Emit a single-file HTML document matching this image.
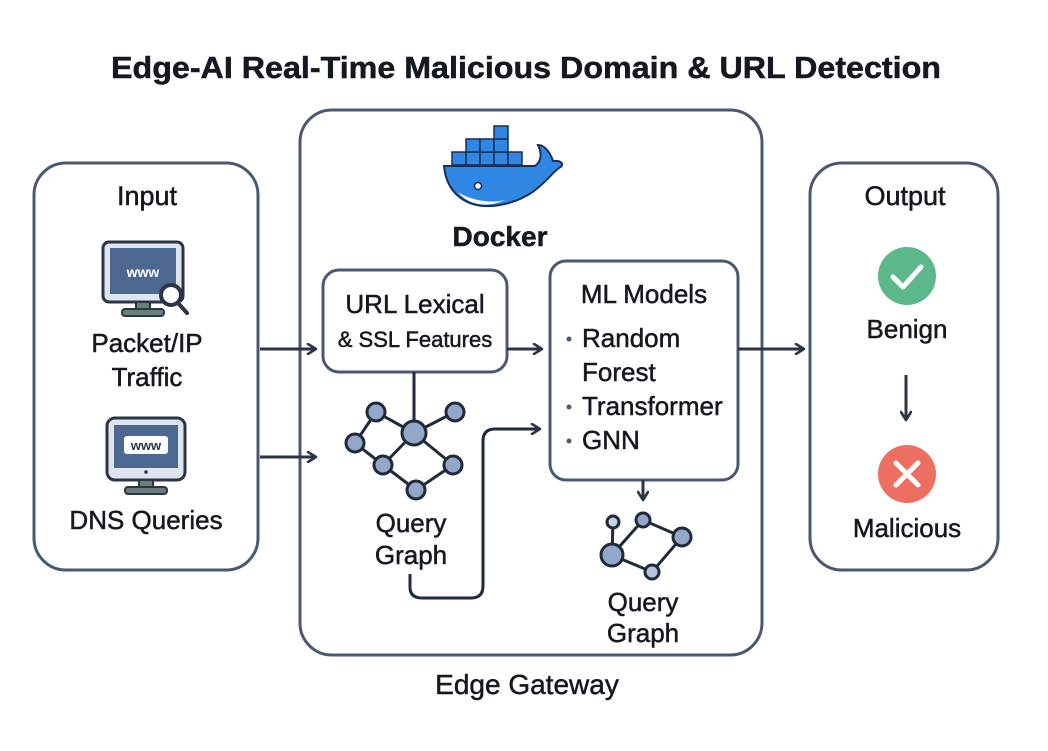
<!DOCTYPE html>
<html><head><meta charset="utf-8"><style>
html,body{margin:0;padding:0;background:#fff;}
svg{display:block;}
text{font-family:"Liberation Sans","DejaVu Sans",sans-serif;fill:#141821;stroke:#141821;stroke-width:0.5;}
</style></head><body>
<svg width="1048" height="751" viewBox="0 0 1048 751" xmlns="http://www.w3.org/2000/svg">
<defs>
<marker id="ah" viewBox="0 0 12 12" refX="10" refY="6" markerWidth="12" markerHeight="12" markerUnits="userSpaceOnUse" orient="auto">
<path d="M2,1 L10,6 L2,11" fill="none" stroke="#2b3545" stroke-width="2.6" stroke-linecap="round" stroke-linejoin="round"/>
</marker>
</defs>
<text x="526" y="78" font-size="31" font-weight="bold" text-anchor="middle" textLength="830" lengthAdjust="spacingAndGlyphs">Edge-AI Real-Time Malicious Domain &amp; URL Detection</text>

<rect x="34" y="163" width="224" height="407" rx="32" fill="#fff" stroke="#4a5870" stroke-width="3"/>
<rect x="300" y="110" width="462" height="545" rx="32" fill="#fff" stroke="#4a5870" stroke-width="3"/>
<rect x="810" y="163" width="188" height="407" rx="32" fill="#fff" stroke="#4a5870" stroke-width="3"/>
<rect x="323" y="270" width="184" height="102" rx="16" fill="#fff" stroke="#4a5870" stroke-width="3"/>
<rect x="550" y="261" width="188" height="219" rx="16" fill="#fff" stroke="#4a5870" stroke-width="3"/>

<text x="147" y="205" font-size="27" text-anchor="middle">Input</text>
<rect x="103" y="242" width="80" height="60" rx="6" fill="#dfe5ee" stroke="#2b3545" stroke-width="3"/>
<rect x="110" y="248" width="66" height="46" fill="#4c6891"/>
<text x="143" y="277" font-size="14" font-weight="bold" text-anchor="middle" style="fill:#fff;stroke:none">www</text>
<rect x="136" y="302" width="14" height="8" fill="#6b7f7a" stroke="#2b3545" stroke-width="2"/>
<rect x="122" y="309" width="42" height="7" rx="3" fill="#6b7f7a" stroke="#2b3545" stroke-width="2"/>
<circle cx="171" cy="295" r="10" fill="#fff" stroke="#2b3545" stroke-width="4"/>
<line x1="178" y1="303" x2="187" y2="313" stroke="#2b3545" stroke-width="4" stroke-linecap="round"/>
<text x="147" y="352" font-size="26" text-anchor="middle">Packet/IP</text>
<text x="147" y="386" font-size="26" text-anchor="middle">Traffic</text>

<rect x="107" y="418" width="78" height="62" rx="8" fill="#dfe5ee" stroke="#2b3545" stroke-width="3"/>
<rect x="114" y="425" width="64" height="43" fill="#4c6891"/>
<rect x="124" y="436" width="44" height="18" rx="3" fill="#fff"/>
<text x="146" y="450" font-size="13" font-weight="bold" text-anchor="middle" style="fill:#2b3545;stroke:none">www</text>
<circle cx="146" cy="472" r="1.8" fill="#2b3545"/>
<rect x="139" y="480" width="14" height="8" fill="#6b7f7a" stroke="#2b3545" stroke-width="2"/>
<rect x="125" y="487" width="42" height="7" rx="3" fill="#6b7f7a" stroke="#2b3545" stroke-width="2"/>
<text x="146" y="529" font-size="26" text-anchor="middle">DNS Queries</text>

<g fill="#2f86e3" stroke="#1a2f55" stroke-width="1.5">
<rect x="452" y="152" width="14" height="13"/><rect x="466" y="152" width="14" height="13"/><rect x="480" y="152" width="14" height="13"/><rect x="494" y="152" width="14" height="13"/><rect x="508" y="152" width="14" height="13"/>
<rect x="466" y="139" width="14" height="13"/><rect x="480" y="139" width="14" height="13"/><rect x="494" y="139" width="14" height="13"/>
<rect x="494" y="126" width="14" height="13"/>
<path d="M444,166 L535,166 C543,160 541,151 538,145 C546,145 551,155 553,161 C562,160 565,165 559,168 C548,176 538,196 505,204 C470,212 447,196 444,166 Z" stroke-width="2"/>
</g>
<path d="M458,192 C470,200 490,204 505,200 C490,207 470,207 458,192 Z" fill="#fff"/>
<circle cx="478" cy="186" r="3.5" fill="#fff" stroke="#1a2f55" stroke-width="1.5"/>
<text x="500" y="246" font-size="28" font-weight="bold" text-anchor="middle">Docker</text>

<text x="415" y="313" font-size="26" text-anchor="middle">URL Lexical</text>
<text x="415" y="347" font-size="22" text-anchor="middle">&amp; SSL Features</text>

<text x="644" y="303" font-size="26" text-anchor="middle">ML Models</text>
<g font-size="26">
<text x="582" y="347">Random</text>
<text x="582" y="381">Forest</text>
<text x="582" y="415">Transformer</text>
<text x="582" y="449">GNN</text>
</g>
<g fill="#4a5870"><circle cx="569" cy="339" r="2.5"/><circle cx="569" cy="407" r="2.5"/><circle cx="569" cy="441" r="2.5"/></g>

<g stroke="#1f2a3b" stroke-width="3" fill="none">
<line x1="414" y1="372" x2="414" y2="433"/>
<path d="M376,412 L414,433 L455,412 M376,412 L355,443 L383,465 L414,433 L453,465 L416,490 L383,465"/>
<path d="M410,574 L410,587 Q410,598 422,598 L471,598 Q483,598 483,586 L483,441 Q483,429 495,429 L540,429" marker-end="url(#ah)"/>
</g>
<g fill="#93a8c8" stroke="#1f2a3b" stroke-width="3">
<circle cx="376" cy="412" r="9"/><circle cx="455" cy="412" r="9"/><circle cx="414" cy="433" r="12"/><circle cx="355" cy="443" r="9"/><circle cx="383" cy="465" r="9"/><circle cx="453" cy="465" r="9"/><circle cx="416" cy="490" r="9"/>
</g>
<text x="411" y="532" font-size="26" text-anchor="middle">Query</text>
<text x="411" y="564" font-size="26" text-anchor="middle">Graph</text>

<g stroke="#1f2a3b" stroke-width="3" fill="none">
<path d="M613,522 L612,555 L643,520 L682,537 L652,572 L612,555"/>
</g>
<g fill="#93a8c8" stroke="#1f2a3b" stroke-width="3">
<circle cx="613" cy="522" r="6" fill="#c9d3e3"/><circle cx="643" cy="520" r="7"/><circle cx="682" cy="537" r="9"/><circle cx="612" cy="555" r="11"/><circle cx="652" cy="572" r="7" fill="#b7c5dc"/>
</g>
<text x="643" y="611" font-size="26" text-anchor="middle">Query</text>
<text x="643" y="642" font-size="26" text-anchor="middle">Graph</text>

<g stroke="#2b3545" stroke-width="3" fill="none">
<line x1="260" y1="349" x2="316" y2="349" marker-end="url(#ah)"/>
<line x1="260" y1="457" x2="316" y2="457" marker-end="url(#ah)"/>
<line x1="507" y1="349" x2="542" y2="349" marker-end="url(#ah)"/>
<line x1="738" y1="349" x2="804" y2="349" marker-end="url(#ah)"/>
<line x1="643" y1="480" x2="643" y2="500" marker-end="url(#ah)"/>
<line x1="906" y1="375" x2="906" y2="420" marker-end="url(#ah)"/>
</g>

<text x="905" y="205" font-size="27" text-anchor="middle">Output</text>
<circle cx="907" cy="276" r="29" fill="#5cb88a"/>
<path d="M893,277 L903,287 L921,267" fill="none" stroke="#fff" stroke-width="5" stroke-linecap="round" stroke-linejoin="round"/>
<text x="907" y="338" font-size="26" text-anchor="middle">Benign</text>
<circle cx="907" cy="474" r="29" fill="#ec6f62"/>
<path d="M896,463 L918,485 M918,463 L896,485" stroke="#fff" stroke-width="5" stroke-linecap="round"/>
<text x="907" y="537" font-size="26" text-anchor="middle">Malicious</text>

<text x="527" y="694" font-size="28" text-anchor="middle">Edge Gateway</text>
</svg>
</body></html>
